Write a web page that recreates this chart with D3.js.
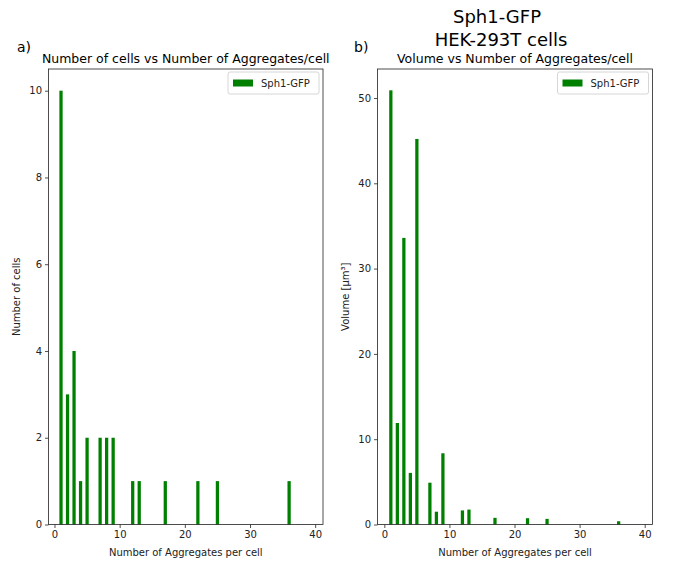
<!DOCTYPE html>
<html>
<head>
<meta charset="utf-8">
<script src="https://cdn.jsdelivr.net/npm/d3@7"></script>
<style>
  body { margin: 0; background: #fff; }
  svg { display: block; font-family: "DejaVu Sans", sans-serif; }
</style>
</head>
<body>
<svg id="chart" width="683" height="561"></svg>
<script>
// ---- data ----
const aggregates = [1, 2, 3, 4, 5, 7, 8, 9, 12, 13, 17, 22, 25, 36];
const cellCounts = [10, 3, 4, 1, 2, 2, 2, 2, 1, 1, 1, 1, 1, 1];
const volumes = [50.9, 11.9, 33.6, 6.05, 45.2, 4.9, 1.5, 8.35, 1.65, 1.75, 0.78, 0.74, 0.66, 0.38];
const xTicks = [0, 10, 20, 30, 40];
const countTicks = [0, 2, 4, 6, 8, 10];
const volumeTicks = [0, 10, 20, 30, 40, 50];
const seriesName = "Sph1-GFP";

const svg = d3.select("#chart");
const green = "#008000";
const barWidth = 0.5;

svg.append("text").attr("x", 497).attr("y", 23).attr("text-anchor", "middle")
  .attr("font-size", 18).attr("fill", "#000").text("Sph1-GFP");
svg.append("text").attr("x", 501).attr("y", 46).attr("text-anchor", "middle")
  .attr("font-size", 18).attr("fill", "#000").text("HEK-293T cells");

function panel(opts) {
  const { left, right, top, bottom, xDomain, yDomain, values, yTicks, title, ylabel, letter, letterX } = opts;
  const x = d3.scaleLinear().domain(xDomain).range([left, right]);
  const y = d3.scaleLinear().domain(yDomain).range([bottom, top]);
  const g = svg.append("g");

  // bars
  g.selectAll("rect.bar").data(aggregates.map((a, i) => ({ a, v: values[i] })))
    .enter().append("rect").attr("class", "bar")
    .attr("x", d => x(d.a - barWidth / 2))
    .attr("width", d => x(d.a + barWidth / 2) - x(d.a - barWidth / 2))
    .attr("y", d => y(d.v))
    .attr("height", d => y(0) - y(d.v))
    .attr("fill", green);

  // axes
  const xAxis = d3.axisBottom(x).tickValues(xTicks).tickSize(3.5).tickPadding(3).tickFormat(d3.format("d"));
  const yAxis = d3.axisLeft(y).tickValues(yTicks).tickSize(3.5).tickPadding(3).tickFormat(d3.format("d"));
  const gx = g.append("g").attr("transform", `translate(0,${bottom})`).call(xAxis);
  const gy = g.append("g").attr("transform", `translate(${left},0)`).call(yAxis);
  [gx, gy].forEach(a => {
    a.select(".domain").remove();
    a.selectAll("text").attr("font-size", 10).attr("fill", "#222").attr("font-family", "DejaVu Sans, sans-serif");
    a.selectAll("line").attr("stroke", "#222").attr("stroke-width", 0.8);
  });

  // frame
  g.append("rect").attr("x", left).attr("y", top).attr("width", right - left).attr("height", bottom - top)
    .attr("fill", "none").attr("stroke", "#222").attr("stroke-width", 0.8);

  // title
  g.append("text").attr("x", (left + right) / 2).attr("y", top - 6).attr("text-anchor", "middle")
    .attr("font-size", 12.5).attr("fill", "#000").text(title);
  // letter
  g.append("text").attr("x", letterX).attr("y", 52).attr("font-size", 14).attr("fill", "#000").text(letter);
  // labels
  g.append("text").attr("x", (left + right) / 2).attr("y", bottom + 31).attr("text-anchor", "middle")
    .attr("font-size", 10).attr("fill", "#222").text("Number of Aggregates per cell");
  g.append("text").attr("transform", `translate(${left - 29},${(top + bottom) / 2}) rotate(-90)`)
    .attr("text-anchor", "middle").attr("font-size", 10).attr("fill", "#222").text(ylabel);

  // legend
  const lw = 91, lh = 22;
  const lx = right - 4 - lw, ly = top + 3;
  g.append("rect").attr("x", lx).attr("y", ly).attr("width", lw).attr("height", lh).attr("rx", 2)
    .attr("fill", "#fff").attr("fill-opacity", 0.8).attr("stroke", "#ccc").attr("stroke-width", 0.8);
  g.append("rect").attr("x", lx + 5).attr("y", ly + 7.5).attr("width", 20).attr("height", 7).attr("fill", green);
  g.append("text").attr("x", lx + 33).attr("y", ly + 15).attr("font-size", 10).attr("fill", "#222").text(seriesName);
}

panel({ left: 48.5, right: 323, top: 69, bottom: 524.5, xDomain: [-0.92, 41.2], yDomain: [0, 10.5],
  values: cellCounts, yTicks: countTicks, title: "Number of cells vs Number of Aggregates/cell",
  ylabel: "Number of cells", letter: "a)", letterX: 17 });
panel({ left: 377.5, right: 652.5, top: 69, bottom: 524.5, xDomain: [-1.05, 41.2], yDomain: [0, 53.4],
  values: volumes, yTicks: volumeTicks, title: "Volume vs Number of Aggregates/cell",
  ylabel: "Volume [µm³]", letter: "b)", letterX: 354 });

// clipped label of a third (cut off) panel
svg.append("clipPath").attr("id", "cut").append("rect").attr("x", 600).attr("y", 0).attr("width", 73.5).attr("height", 561);
svg.append("text").attr("clip-path", "url(#cut)")
  .attr("transform", "translate(677.5,298) rotate(-90)")
  .attr("text-anchor", "middle").attr("font-size", 10).attr("fill", "#222").text("Volume [µm³]");
</script>
</body>
</html>
